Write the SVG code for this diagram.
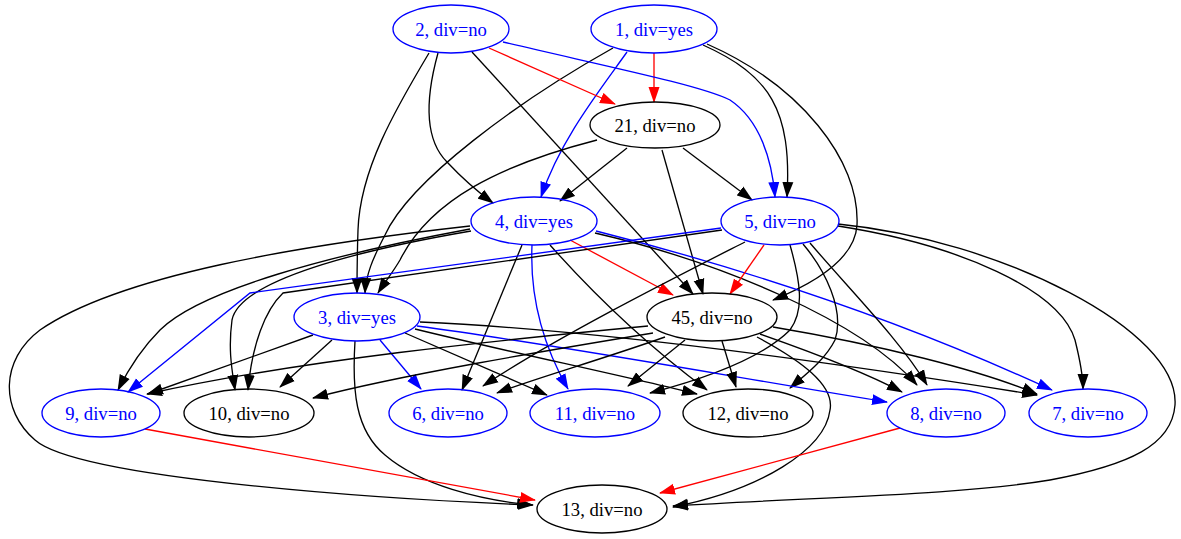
<svg xmlns="http://www.w3.org/2000/svg" width="1181" height="539" viewBox="0 0 1181 539">
<style>
.n ellipse{fill:none;stroke-width:1.33}
.n text{font-family:"Liberation Serif","Times New Roman",serif;font-size:18.67px;text-anchor:middle}
.b ellipse{stroke:#0000ff}.b text{fill:#0000ff}
.k ellipse{stroke:#000}.k text{fill:#000}
#edges path{fill:none;stroke-width:1.33}
#edges .e{stroke:#000;marker-end:url(#ak)}
#edges .r{stroke:#ff0000;marker-end:url(#ar)}
#edges .u{stroke:#0000ff;marker-end:url(#ab)}
</style>
<defs>
<marker id="ak" markerUnits="userSpaceOnUse" markerWidth="16" markerHeight="12" viewBox="0 0 16 12" refX="15" refY="6" orient="auto"><path d="M0,0.5 L16,6 L0,11.5 z" fill="#000"/></marker>
<marker id="ar" markerUnits="userSpaceOnUse" markerWidth="16" markerHeight="12" viewBox="0 0 16 12" refX="15" refY="6" orient="auto"><path d="M0,0.5 L16,6 L0,11.5 z" fill="#ff0000"/></marker>
<marker id="ab" markerUnits="userSpaceOnUse" markerWidth="16" markerHeight="12" viewBox="0 0 16 12" refX="15" refY="6" orient="auto"><path d="M0,0.5 L16,6 L0,11.5 z" fill="#0000ff"/></marker>
</defs>
<rect width="1181" height="539" fill="#fff"/>
<g id="edges">
<path class="r" d="M654,53 L654,102"/>
<path class="u" d="M627,52 C600,90 560,140 541,197"/>
<path class="e" d="M703,45 C770,75 792,110 787,197"/>
<path class="e" d="M707,44 C800,85 860,160 857,225 C855,260 810,285 773,300"/>
<path class="e" d="M613,48 C520,100 410,180 385,235 C372,260 366,275 365,293"/>
<path class="r" d="M489,48 L615,104"/>
<path class="u" d="M503,42 C600,65 700,85 730,100 C760,120 772,160 775,197"/>
<path class="e" d="M472,52 L693,294"/>
<path class="e" d="M438,53 C425,100 425,140 447,162 C462,178 478,192 493,203"/>
<path class="e" d="M429,53 C395,110 360,170 358,230 C357,260 357,275 357,293"/>
<path class="e" d="M627,148 L560,201"/>
<path class="e" d="M683,148 L752,200"/>
<path class="e" d="M662,150 L703,294"/>
<path class="e" d="M597,140 C500,165 430,200 400,260 C393,272 385,282 378,293"/>
<path class="r" d="M570,240 L673,295"/>
<path class="e" d="M522,245 L462,390"/>
<path class="u" d="M532,245 C530,290 540,340 568,389"/>
<path class="e" d="M550,245 C590,290 640,340 707,390"/>
<path class="e" d="M595,233 C720,262 860,320 917,385"/>
<path class="u" d="M596,231 C750,270 900,320 1052,390"/>
<path class="e" d="M470,226 C300,245 120,275 40,330 C0,360 0,410 35,440 C80,480 400,500 533,505"/>
<path class="e" d="M470,229 C330,255 200,290 160,330 C140,350 128,370 118,390"/>
<path class="e" d="M471,231 C360,250 240,280 232,320 C228,350 232,370 235,390"/>
<path class="r" d="M764,245 L730,294"/>
<path class="u" d="M721,228 L250,293 L128,392"/>
<path class="e" d="M722,230 L283,293 C265,310 252,345 248,390"/>
<path class="e" d="M745,242 C680,275 560,335 483,386"/>
<path class="e" d="M790,245 C800,280 805,310 790,330 C760,360 700,380 650,393"/>
<path class="e" d="M803,244 C825,270 845,310 835,340 C825,360 805,375 790,388"/>
<path class="e" d="M810,243 C850,290 900,340 927,385"/>
<path class="e" d="M838,226 C960,245 1060,290 1075,340 C1080,360 1083,375 1083,389"/>
<path class="e" d="M838,224 C1000,240 1180,330 1175,405 C1172,445 1130,465 1050,480 C960,495 820,497 673,506"/>
<path class="e" d="M757,337 C800,360 835,385 830,410 C825,450 760,490 673,507"/>
<path class="e" d="M355,341 C352,390 355,430 385,455 C420,485 480,500 532,505"/>
<path class="r" d="M145,429 L535,500"/>
<path class="r" d="M900,428 L660,493"/>
<path class="e" d="M313,335 L148,394"/>
<path class="e" d="M332,340 L280,387"/>
<path class="u" d="M380,340 L421,389"/>
<path class="e" d="M405,333 L547,395"/>
<path class="e" d="M415,329 C500,350 620,375 697,394"/>
<path class="u" d="M417,326 C560,345 750,380 887,402"/>
<path class="e" d="M420,322 C600,330 850,365 1037,395"/>
<path class="e" d="M648,326 C500,340 300,360 147,394"/>
<path class="e" d="M653,333 C550,350 400,375 313,398"/>
<path class="e" d="M665,337 C600,360 530,380 497,393"/>
<path class="e" d="M685,340 L628,386"/>
<path class="e" d="M722,341 L736,387"/>
<path class="e" d="M760,334 C820,355 870,375 902,392"/>
<path class="e" d="M773,327 C880,345 980,370 1037,394"/>
</g>
<g id="n1" class="n b"><ellipse cx="654" cy="29" rx="63" ry="24"/><text x="654" y="35.5">1, div=yes</text></g>
<g id="n2" class="n b"><ellipse cx="451" cy="29" rx="58" ry="24"/><text x="451" y="35.5">2, div=no</text></g>
<g id="n21" class="n k"><ellipse cx="655" cy="125" rx="65" ry="23"/><text x="655" y="131.5">21, div=no</text></g>
<g id="n4" class="n b"><ellipse cx="534" cy="221" rx="63" ry="24"/><text x="534" y="227.5">4, div=yes</text></g>
<g id="n5" class="n b"><ellipse cx="780" cy="221" rx="59" ry="24"/><text x="780" y="227.5">5, div=no</text></g>
<g id="n3" class="n b"><ellipse cx="357" cy="317" rx="63" ry="24"/><text x="357" y="323.5">3, div=yes</text></g>
<g id="n45" class="n k"><ellipse cx="712" cy="317" rx="65" ry="24"/><text x="712" y="323.5">45, div=no</text></g>
<g id="n9" class="n b"><ellipse cx="101" cy="413" rx="59" ry="24"/><text x="101" y="419.5">9, div=no</text></g>
<g id="n10" class="n k"><ellipse cx="249" cy="413" rx="65" ry="24"/><text x="249" y="419.5">10, div=no</text></g>
<g id="n6" class="n b"><ellipse cx="448" cy="413" rx="59" ry="24"/><text x="448" y="419.5">6, div=no</text></g>
<g id="n11" class="n b"><ellipse cx="595" cy="413" rx="65" ry="24"/><text x="595" y="419.5">11, div=no</text></g>
<g id="n12" class="n k"><ellipse cx="748" cy="413" rx="65" ry="24"/><text x="748" y="419.5">12, div=no</text></g>
<g id="n8" class="n b"><ellipse cx="946" cy="413" rx="59" ry="24"/><text x="946" y="419.5">8, div=no</text></g>
<g id="n7" class="n b"><ellipse cx="1088" cy="413" rx="59" ry="24"/><text x="1088" y="419.5">7, div=no</text></g>
<g id="n13" class="n k"><ellipse cx="602" cy="509" rx="65" ry="24"/><text x="602" y="515.5">13, div=no</text></g>
</svg>
